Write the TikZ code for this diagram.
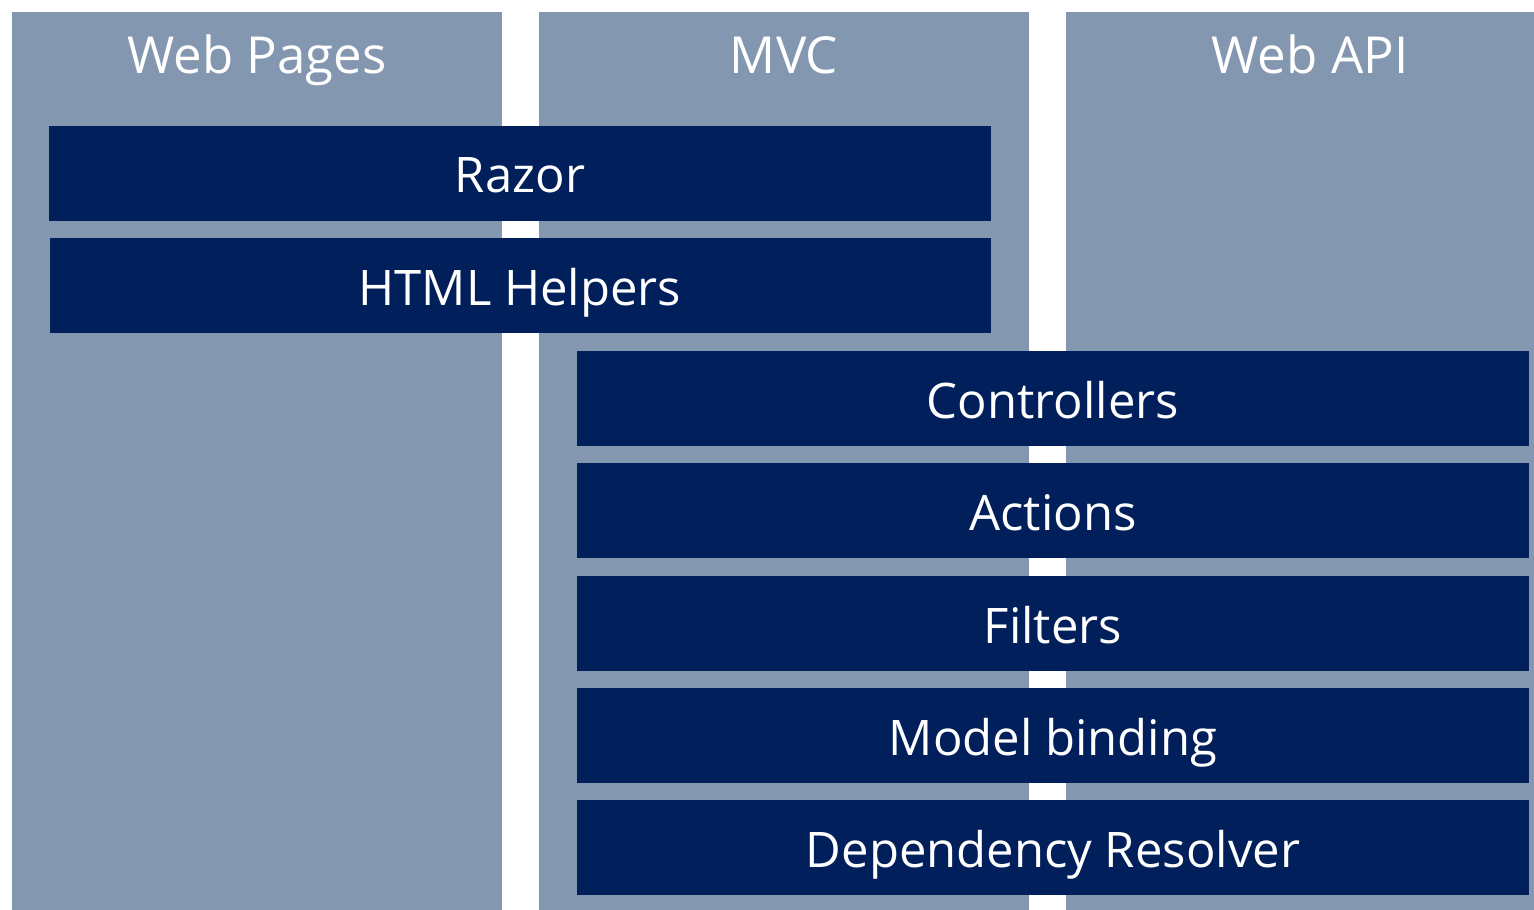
\documentclass[tikz,border=0pt]{standalone}
\usepackage{fontspec}
\setmainfont{Open Sans}
\definecolor{colbg}{HTML}{8497B0}
\definecolor{bardk}{HTML}{001F5B}
\begin{document}
\begin{tikzpicture}[x=1pt,y=-1pt,
  col/.style={fill=colbg,draw=none},
  bar/.style={fill=bardk,draw=none},
  ttl/.style={text=white,anchor=base,inner sep=0pt,font=\fontsize{51}{60}\selectfont},
  lbl/.style={text=white,anchor=base,inner sep=0pt,font=\fontsize{49}{56}\selectfont}]
\useasboundingbox (0,0) rectangle (1534,910);
\fill[col] (12,12) rectangle (502,910);
\fill[col] (539,12) rectangle (1029,910);
\fill[col] (1066,12) rectangle (1534,910);
\node[ttl] (t1) at (257,73) {Web Pages};
\node[ttl] (t2) at (784,73) {MVC};
\node[ttl] (t3) at (1310,73) {Web API};
\fill[bar] (49,126) rectangle (991,221);
\fill[bar] (50,238) rectangle (991,333);
\node[lbl] (razor) at (520,192) {Razor};
\node[lbl] (html) at (520,305) {HTML Helpers};
\foreach \y/\t/\n in {351/Controllers/ctl,463/Actions/act,576/Filters/fil,688/Model binding/mb,800/Dependency Resolver/dr}{
  \fill[bar] (577,\y) rectangle (1529,\y+95);
  \node[lbl] (\n) at (1053,\y+67) {\t};
}
\end{tikzpicture}
\end{document}
